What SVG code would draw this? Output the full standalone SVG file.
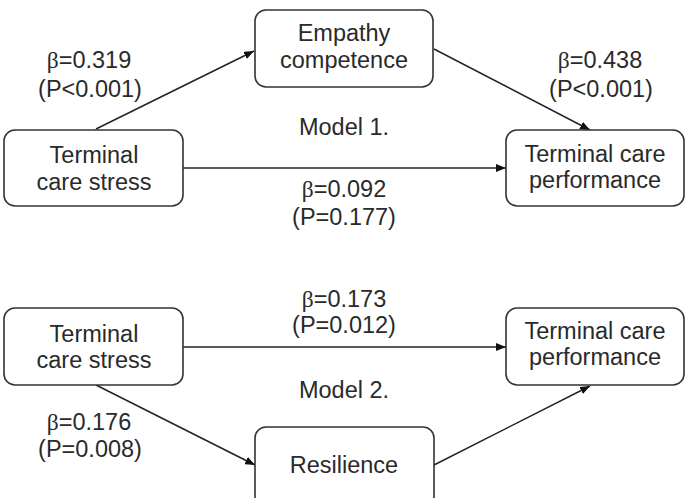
<svg xmlns="http://www.w3.org/2000/svg" width="686" height="498" viewBox="0 0 686 498">
<style>
.box{fill:#fff;stroke:#333;stroke-width:1.6}
.t{font-family:"Liberation Sans",Arial,sans-serif;font-size:23.5px;fill:#2a2a2a;text-anchor:middle}
.b{font-family:"Liberation Serif","Times New Roman",serif}
.c{stroke:#222;stroke-width:1.5;fill:none;marker-end:url(#ah)}
</style>
<defs>
<marker id="ah" viewBox="0 0 10 8" refX="10" refY="4" markerWidth="10" markerHeight="8" markerUnits="userSpaceOnUse" orient="auto">
<path d="M0,0 L10,4 L0,8 Z" fill="#111"/>
</marker>
</defs>
<rect width="686" height="498" fill="#fff"/>
<g id="connectors">
<line class="c" x1="96" y1="129" x2="254" y2="51"/>
<line class="c" x1="434" y1="49" x2="590" y2="130"/>
<line class="c" x1="183" y1="168" x2="506" y2="168"/>
<line class="c" x1="183" y1="347" x2="506" y2="347"/>
<line class="c" x1="96" y1="385" x2="255" y2="465"/>
<line class="c" x1="434" y1="465" x2="590" y2="386"/>
</g>
<g id="m1-stress">
<rect class="box" x="4" y="130" width="179" height="76" rx="11"/>
<text class="t" x="94" y="163">Terminal</text>
<text class="t" x="94" y="190">care stress</text>
</g>
<g id="m1-empathy">
<rect class="box" x="255" y="10" width="178" height="77" rx="11"/>
<text class="t" x="344" y="41">Empathy</text>
<text class="t" x="344" y="68">competence</text>
</g>
<g id="m1-performance">
<rect class="box" x="506" y="130" width="178" height="76" rx="11"/>
<text class="t" x="595" y="162">Terminal care</text>
<text class="t" x="595" y="188">performance</text>
</g>
<g id="m1-labels">
<text class="t" x="89" y="68"><tspan class="b">β</tspan>=0.319</text>
<text class="t" x="90" y="97">(P&lt;0.001)</text>
<text class="t" x="600" y="68"><tspan class="b">β</tspan>=0.438</text>
<text class="t" x="601" y="97">(P&lt;0.001)</text>
<text class="t" x="344" y="135">Model 1.</text>
<text class="t" x="344" y="197"><tspan class="b">β</tspan>=0.092</text>
<text class="t" x="344" y="225">(P=0.177)</text>
</g>
<g id="m2-stress">
<rect class="box" x="4" y="308" width="179" height="77" rx="11"/>
<text class="t" x="94" y="342">Terminal</text>
<text class="t" x="94" y="368">care stress</text>
</g>
<g id="m2-performance">
<rect class="box" x="506" y="308" width="178" height="77" rx="11"/>
<text class="t" x="595" y="339">Terminal care</text>
<text class="t" x="595" y="365">performance</text>
</g>
<g id="m2-resilience">
<rect class="box" x="255" y="427" width="179" height="80" rx="11"/>
<text class="t" x="344" y="473">Resilience</text>
</g>
<g id="m2-labels">
<text class="t" x="344" y="307"><tspan class="b">β</tspan>=0.173</text>
<text class="t" x="344" y="333">(P=0.012)</text>
<text class="t" x="344" y="398">Model 2.</text>
<text class="t" x="89" y="430"><tspan class="b">β</tspan>=0.176</text>
<text class="t" x="90" y="457">(P=0.008)</text>
</g>
</svg>
